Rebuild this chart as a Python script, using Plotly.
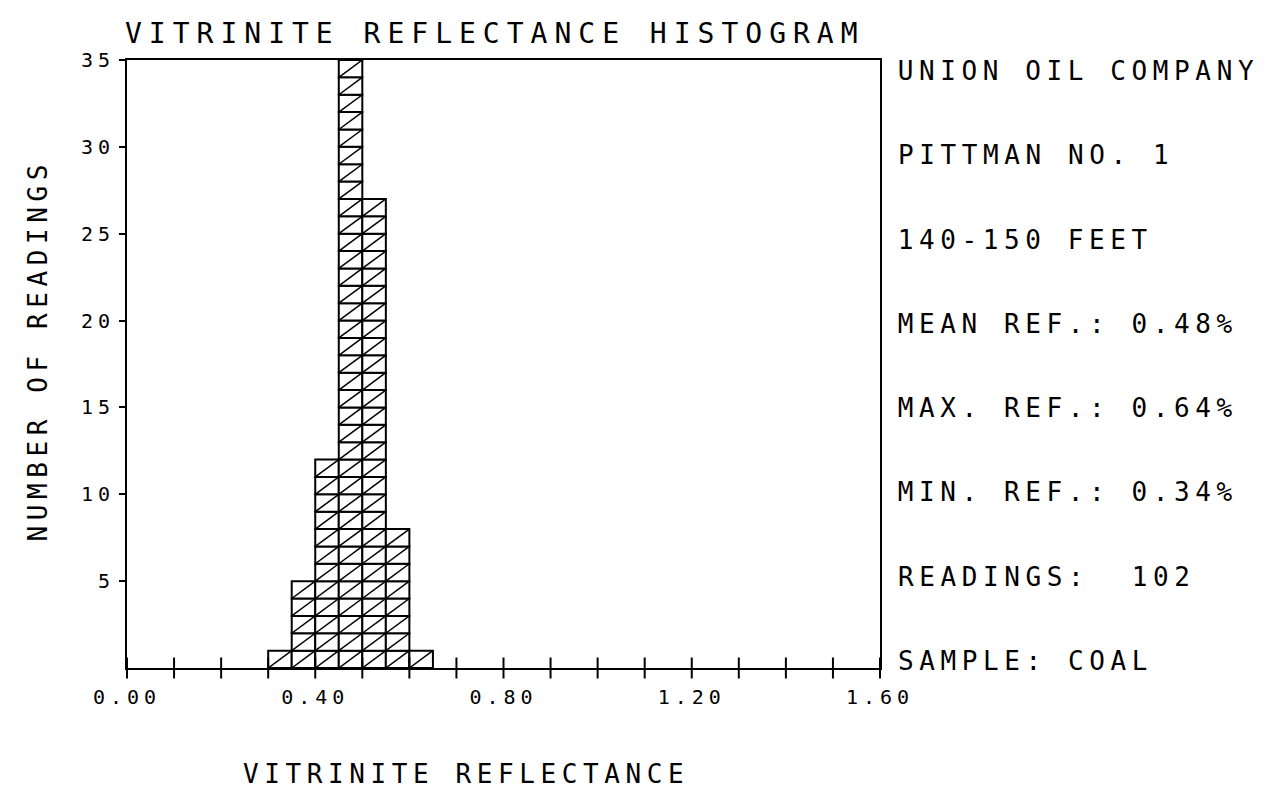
import plotly.graph_objects as go

# histogram bins (left edges) and counts
bin_left = [0.30, 0.35, 0.40, 0.45, 0.50, 0.55, 0.60]
counts = [1, 5, 12, 48, 27, 8, 1]
bin_width = 0.05

x_ticks = [0.0, 0.4, 0.8, 1.2, 1.6]
x_tick_text = ["0.00", "0.40", "0.80", "1.20", "1.60"]
x_minor = [i / 10 for i in range(17)]
y_ticks = [5, 10, 15, 20, 25, 30, 35]

info_lines = [
    "UNION OIL COMPANY",
    "PITTMAN NO. 1",
    "140-150 FEET",
    "MEAN REF.: 0.48%",
    "MAX. REF.: 0.64%",
    "MIN. REF.: 0.34%",
    "READINGS:\u00a0\u00a0102",
    "SAMPLE: COAL",
]

FONT = "DejaVu Sans Mono"

# every reading is drawn as its own unit cell, stacked up the bin
cell_x, cell_base = [], []
diag_x, diag_y = [], []
for left, n in zip(bin_left, counts):
    for k in range(n):
        cell_x.append(left + bin_width / 2)
        cell_base.append(k)
        diag_x += [left, left + bin_width, None]
        diag_y += [k, k + 1, None]

fig = go.Figure()
fig.add_trace(go.Bar(
    x=cell_x, y=[1] * len(cell_x), base=cell_base, width=bin_width,
    marker=dict(color="white", line=dict(color="black", width=2)),
    showlegend=False, hoverinfo="skip",
))
fig.add_trace(go.Scatter(
    x=diag_x, y=diag_y, mode="lines",
    line=dict(color="black", width=1.5),
    showlegend=False, hoverinfo="skip",
))
# x ticks cross the axis line
fig.add_trace(go.Scatter(
    x=x_minor, y=[0] * len(x_minor), mode="markers",
    marker=dict(symbol="line-ns", size=15, line=dict(color="black", width=2)),
    cliponaxis=False, showlegend=False, hoverinfo="skip",
))

fig.update_layout(
    width=1273, height=789,
    margin=dict(l=119, r=401, t=52, b=129),
    paper_bgcolor="white", plot_bgcolor="white",
    barmode="overlay",
    font=dict(family=FONT, color="black", size=20),
)
fig.update_xaxes(
    range=[0, 1.6], showgrid=False, zeroline=False,
    showline=True, linecolor="black", linewidth=2, mirror=True,
    tickvals=x_ticks, ticktext=x_tick_text, ticks="",
    ticklabelstandoff=10, tickfont=dict(size=20),
)
fig.update_yaxes(
    range=[0, 35], showgrid=False, zeroline=False,
    showline=True, linecolor="black", linewidth=2, mirror=True,
    tickvals=y_ticks, ticks="outside", ticklen=6, tickwidth=2, tickcolor="black",
    tickfont=dict(size=20),
)

ann = dict(showarrow=False, xref="paper", yref="paper", font=dict(family=FONT, size=26, color="black"))
fig.add_annotation(text="VITRINITE REFLECTANCE HISTOGRAM", x=-0.005, y=1.044,
                   xanchor="left", yanchor="middle", **{**ann, "font": dict(family=FONT, size=28, color="black")})
fig.add_annotation(text="VITRINITE REFLECTANCE", x=(233 - 119) / 753, y=-0.175,
                   xanchor="left", yanchor="middle", **ann)
fig.add_annotation(text="NUMBER OF READINGS", x=-0.118, y=0.523, textangle=-90,
                   xanchor="center", yanchor="middle", **ann)

y_top, y_bot = 1 - (63 - 52) / 608, (660 - 653) / 608
step = (y_top - y_bot) / (len(info_lines) - 1)
for i, line in enumerate(info_lines):
    fig.add_annotation(text=line, x=(888 - 119) / 753, y=y_top - i * step,
                       xanchor="left", yanchor="middle", **ann)

# plotter lettering is widely spaced; left-anchored notes are shifted back
# so their first letter stays where plotly put it
post = """
var gd = document.getElementById('{plot_id}');
function gap(t){
  var fs = parseFloat(t.style.fontSize) || 20;
  return fs >= 27 ? '7px' : (fs >= 24 ? '5.6px' : '5px');
}
function spaceOut(){
  gd.querySelectorAll('text').forEach(function(t){ t.style.letterSpacing = gap(t); });
  gd.querySelectorAll('g.annotation').forEach(function(g){
    var a = gd._fullLayout.annotations[+g.getAttribute('data-index')];
    var t = g.querySelector('text.annotation-text');
    if(!a || !t || a.xanchor !== 'left') return;
    if(t.dataset.x0 === undefined) t.dataset.x0 = t.getAttribute('x');
    t.style.letterSpacing = '0px';
    var w0 = t.getBBox().width;
    t.style.letterSpacing = gap(t);
    var w1 = t.getBBox().width;
    t.setAttribute('x', parseFloat(t.dataset.x0) + (w1 - w0) / 2);
  });
}
spaceOut();
gd.on('plotly_afterplot', spaceOut);
"""

fig.write_html("out.html", post_script=post)
